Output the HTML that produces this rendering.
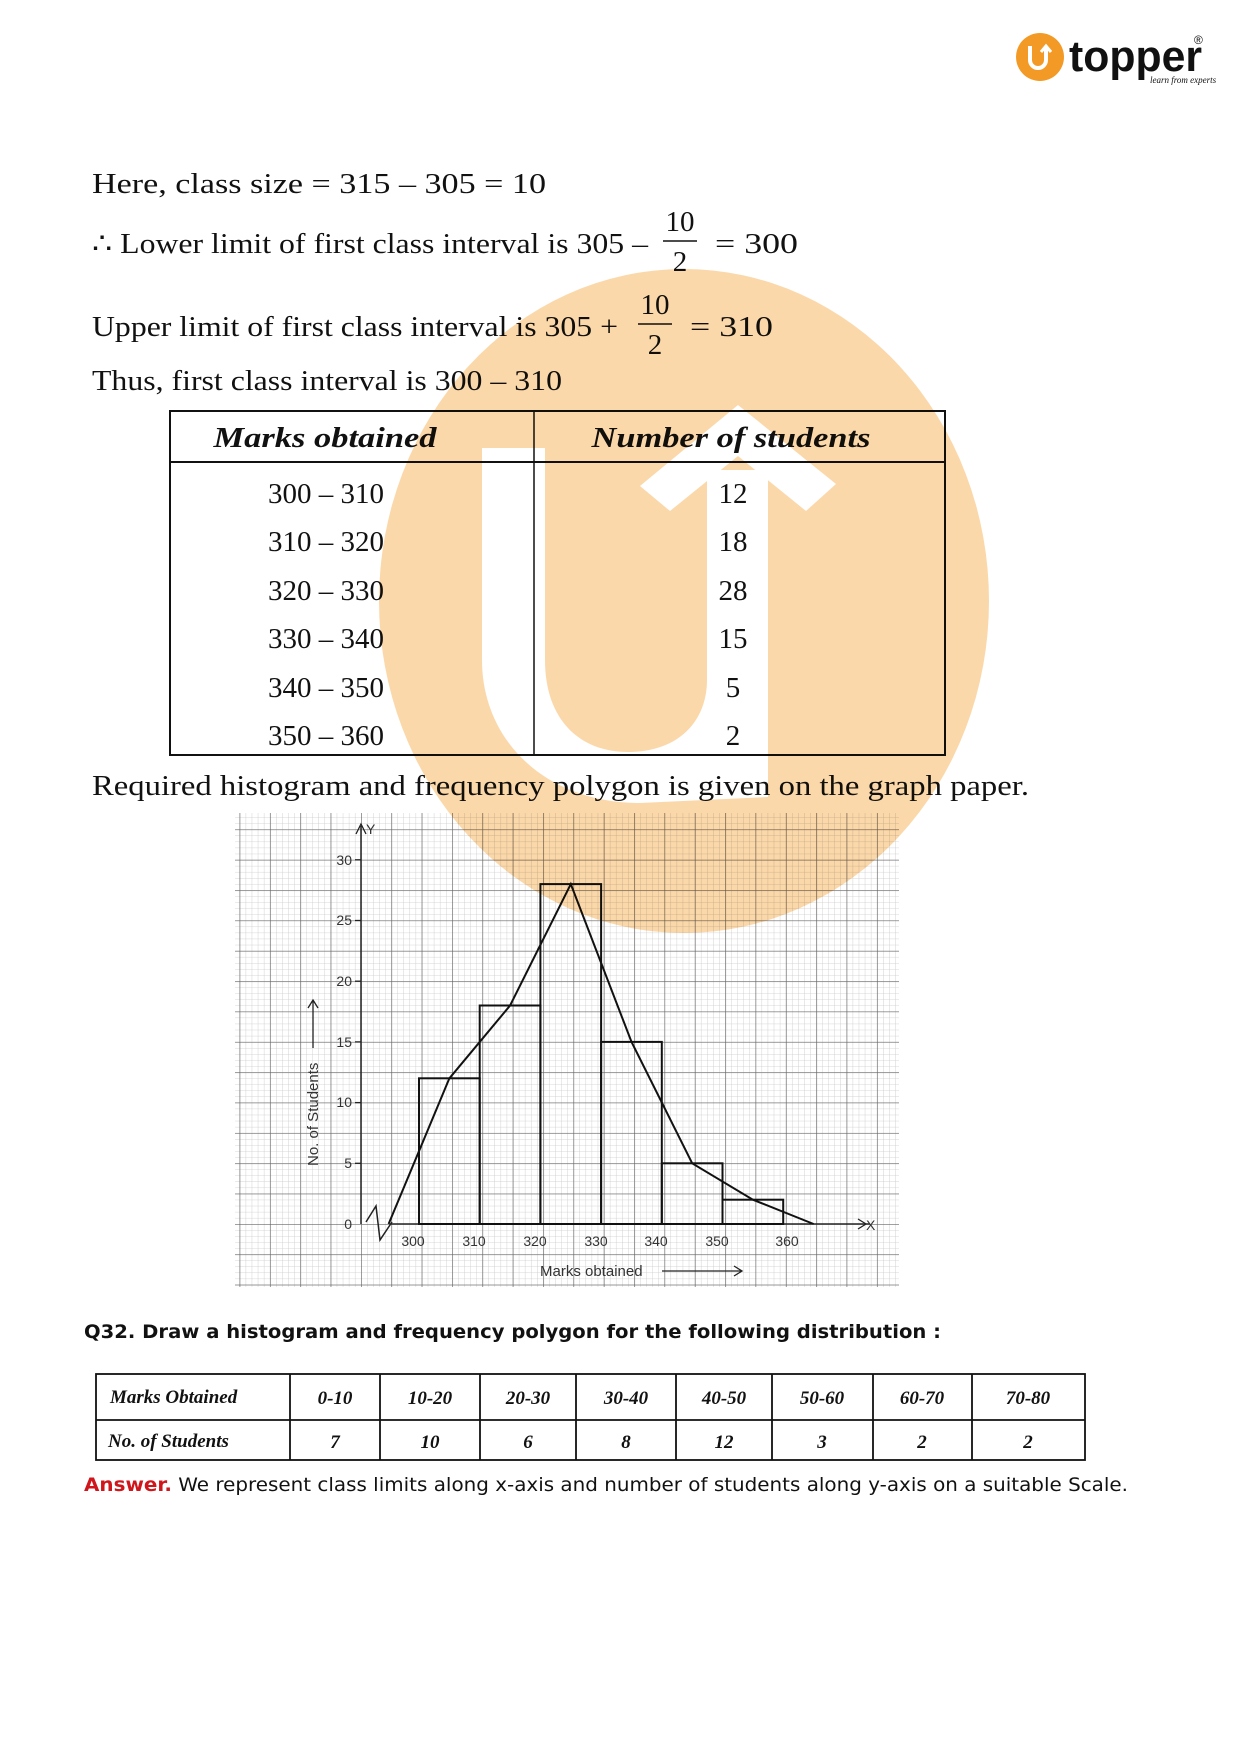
<!DOCTYPE html>
<html><head><meta charset="utf-8"><style>
html,body{margin:0;padding:0;background:#fff;}
svg{display:block;}
.t{font-family:"Liberation Serif",serif;fill:#111;}
.g{font-family:"Liberation Sans",sans-serif;fill:#333;}
.d{font-family:"DejaVu Sans",sans-serif;}
</style></head><body>
<svg width="1240" height="1755" viewBox="0 0 1240 1755" xmlns="http://www.w3.org/2000/svg">
<defs>
<mask id="um" maskUnits="userSpaceOnUse" x="0" y="0" width="1240" height="1755">
<rect x="0" y="0" width="1240" height="1755" fill="#fff"/>
<path d="M482,448 L545,448 L545,660 C545,720 580,752 628,752 C680,752 707,720 707,680 L707,470 L768,470 L768,797 L640,803 C545,803 482,740 482,660 Z" fill="#000"/>
<polygon points="738,405 836,484 806,511 738,456 670,511 640,486" fill="#000"/>
</mask>
<pattern id="minor" x="361" y="1224" width="6.07" height="6.07" patternUnits="userSpaceOnUse">
<path d="M0,0 V6.07 M0,0 H6.07" stroke="#c8c8c8" stroke-width="0.8" fill="none"/>
</pattern>
<pattern id="major" x="361" y="1224" width="30.35" height="30.35" patternUnits="userSpaceOnUse">
<path d="M0,0 V30.35 M0,0 H30.35" stroke="#666" stroke-width="1.3" fill="none"/>
</pattern>
</defs>

<!-- logo -->
<circle cx="1040" cy="57" r="24" fill="#f39a26"/>
<path d="M1030,46 V60 A8,8 0 0 0 1046,60 V48" stroke="#fff" stroke-width="4" fill="none"/>
<path d="M1041,52 L1046,46 L1051,52" stroke="#fff" stroke-width="3" fill="none"/>
<text x="1069" y="71" font-family="Liberation Sans,sans-serif" font-weight="bold" font-size="44" textLength="133" lengthAdjust="spacingAndGlyphs" fill="#111">topper</text>
<text x="1194" y="44" font-family="Liberation Sans,sans-serif" font-size="12" fill="#111">®</text>
<text x="1150" y="83" font-family="Liberation Serif,serif" font-style="italic" font-size="9" fill="#111">learn from experts</text>

<!-- text lines -->
<text class="t" x="92" y="193" font-size="29" textLength="454" lengthAdjust="spacingAndGlyphs">Here, class size = 315 – 305 = 10</text>
<text class="t" x="92" y="253" font-size="29" textLength="556" lengthAdjust="spacingAndGlyphs">∴ Lower limit of first class interval is 305 –</text>
<text class="t" x="680" y="231" font-size="29" text-anchor="middle">10</text>
<line x1="663" y1="241" x2="697" y2="241" stroke="#111" stroke-width="1.5"/>
<text class="t" x="680" y="271" font-size="29" text-anchor="middle">2</text>
<text class="t" x="715" y="253" font-size="29" textLength="83" lengthAdjust="spacingAndGlyphs">= 300</text>

<text class="t" x="92" y="336" font-size="29" textLength="526" lengthAdjust="spacingAndGlyphs">Upper limit of first class interval is 305 +</text>
<text class="t" x="655" y="314" font-size="29" text-anchor="middle">10</text>
<line x1="638" y1="324" x2="672" y2="324" stroke="#111" stroke-width="1.5"/>
<text class="t" x="655" y="354" font-size="29" text-anchor="middle">2</text>
<text class="t" x="690" y="336" font-size="29" textLength="83" lengthAdjust="spacingAndGlyphs">= 310</text>

<text class="t" x="92" y="390" font-size="29" textLength="470" lengthAdjust="spacingAndGlyphs">Thus, first class interval is 300 – 310</text>

<!-- table 1 -->
<rect x="170" y="411" width="775" height="344" fill="none" stroke="#111" stroke-width="2"/>
<line x1="170" y1="462" x2="945" y2="462" stroke="#111" stroke-width="2"/>
<line x1="534" y1="411" x2="534" y2="755" stroke="#111" stroke-width="1.5"/>
<text class="t" x="325" y="447" font-size="29" font-weight="bold" font-style="italic" text-anchor="middle" textLength="223" lengthAdjust="spacingAndGlyphs">Marks obtained</text>
<text class="t" x="731" y="447" font-size="29" font-weight="bold" font-style="italic" text-anchor="middle" textLength="279" lengthAdjust="spacingAndGlyphs">Number of students</text>
<g class="t" font-size="29" text-anchor="middle">
<text x="326" y="503">300 – 310</text><text x="733" y="503">12</text>
<text x="326" y="551">310 – 320</text><text x="733" y="551">18</text>
<text x="326" y="600">320 – 330</text><text x="733" y="600">28</text>
<text x="326" y="648">330 – 340</text><text x="733" y="648">15</text>
<text x="326" y="697">340 – 350</text><text x="733" y="697">5</text>
<text x="326" y="745">350 – 360</text><text x="733" y="745">2</text>
</g>

<text class="t" x="92" y="795" font-size="29" textLength="937" lengthAdjust="spacingAndGlyphs">Required histogram and frequency polygon is given on the graph paper.</text>

<!-- graph paper -->
<rect x="235" y="813" width="664" height="474" fill="url(#minor)"/>
<rect x="235" y="813" width="664" height="474" fill="url(#major)"/>

<!-- axes -->
<line x1="361" y1="1224" x2="361" y2="826" stroke="#222" stroke-width="1.5"/>
<path d="M356,834 L361,824 L366,834" stroke="#222" fill="none" stroke-width="1.3"/>
<text class="g" x="366" y="834" font-size="14">Y</text>
<line x1="390" y1="1224" x2="870" y2="1224" stroke="#222" stroke-width="1.5"/>
<path d="M858,1219 L866,1224 L858,1229" stroke="#222" fill="none" stroke-width="1.3"/>
<text class="g" x="866" y="1230" font-size="14">X</text>
<path d="M366,1222 L376,1206 L380,1240 L392,1222" stroke="#222" fill="none" stroke-width="1.5"/>

<g stroke="#222" stroke-width="1.3">
<line x1="355" y1="1163.3" x2="361" y2="1163.3"/><line x1="355" y1="1102.6" x2="361" y2="1102.6"/>
<line x1="355" y1="1041.9" x2="361" y2="1041.9"/><line x1="355" y1="981.2" x2="361" y2="981.2"/>
<line x1="355" y1="920.5" x2="361" y2="920.5"/><line x1="355" y1="859.8" x2="361" y2="859.8"/>
</g>
<g class="g" font-size="14" text-anchor="end">
<text x="352" y="1229">0</text><text x="352" y="1168">5</text><text x="352" y="1107">10</text>
<text x="352" y="1047">15</text><text x="352" y="986">20</text><text x="352" y="925">25</text><text x="352" y="865">30</text>
</g>
<g class="g" font-size="14" text-anchor="middle">
<text x="413" y="1246">300</text><text x="474" y="1246">310</text><text x="535" y="1246">320</text>
<text x="596" y="1246">330</text><text x="656" y="1246">340</text><text x="717" y="1246">350</text><text x="787" y="1246">360</text>
</g>
<text class="g" x="540" y="1276" font-size="15">Marks obtained</text>
<path d="M662,1271 H742 M734,1266 L742,1271 L734,1276" stroke="#222" fill="none" stroke-width="1.3"/>
<text class="g" transform="translate(318,1166) rotate(-90)" font-size="15">No. of Students</text>
<path d="M313,1048 V1000 M308,1008 L313,1000 L318,1008" stroke="#222" fill="none" stroke-width="1.3"/>

<!-- histogram -->
<g fill="none" stroke="#111" stroke-width="2">
<rect x="419" y="1078.3" width="60.7" height="145.7"/>
<rect x="479.7" y="1005.5" width="60.7" height="218.5"/>
<rect x="540.4" y="884.1" width="60.7" height="339.9"/>
<rect x="601.1" y="1041.9" width="60.7" height="182.1"/>
<rect x="661.8" y="1163.3" width="60.7" height="60.7"/>
<rect x="722.5" y="1199.7" width="60.7" height="24.3"/>
<polyline points="388.6,1224 449.4,1078.3 510.1,1005.5 570.8,884.1 631.5,1041.9 692.2,1163.3 752.9,1199.7 813.6,1224"/>
</g>

<!-- Q32 -->
<text class="d" x="84" y="1338" font-size="19" font-weight="bold" fill="#111" textLength="857" lengthAdjust="spacingAndGlyphs">Q32. Draw a histogram and frequency polygon for the following distribution :</text>
<g stroke="#111" stroke-width="1.8" fill="none">
<rect x="96" y="1374" width="989" height="86"/>
<line x1="96" y1="1420" x2="1085" y2="1420"/>
<line x1="290" y1="1374" x2="290" y2="1460"/><line x1="380" y1="1374" x2="380" y2="1460"/>
<line x1="480" y1="1374" x2="480" y2="1460"/><line x1="576" y1="1374" x2="576" y2="1460"/>
<line x1="676" y1="1374" x2="676" y2="1460"/><line x1="772" y1="1374" x2="772" y2="1460"/>
<line x1="873" y1="1374" x2="873" y2="1460"/><line x1="972" y1="1374" x2="972" y2="1460"/>
</g>
<g class="t" font-size="19" font-weight="bold" font-style="italic">
<text x="110" y="1403">Marks Obtained</text>
<text x="108" y="1447">No. of Students</text>
<g text-anchor="middle">
<text x="335" y="1404">0-10</text><text x="430" y="1404">10-20</text><text x="528" y="1404">20-30</text>
<text x="626" y="1404">30-40</text><text x="724" y="1404">40-50</text><text x="822" y="1404">50-60</text>
<text x="922" y="1404">60-70</text><text x="1028" y="1404">70-80</text>
<text x="335" y="1448">7</text><text x="430" y="1448">10</text><text x="528" y="1448">6</text>
<text x="626" y="1448">8</text><text x="724" y="1448">12</text><text x="822" y="1448">3</text>
<text x="922" y="1448">2</text><text x="1028" y="1448">2</text>
</g></g>
<text class="d" x="84" y="1491" font-size="19" fill="#111" textLength="1044" lengthAdjust="spacingAndGlyphs"><tspan fill="#d0161b" font-weight="bold">Answer.</tspan> We represent class limits along x-axis and number of students along y-axis on a suitable Scale.</text>

<!-- watermark on top, multiply -->
<g style="mix-blend-mode:multiply">
<ellipse cx="684" cy="601" rx="305" ry="332" fill="#fbd8aa" mask="url(#um)"/>
</g>
</svg>
</body></html>
